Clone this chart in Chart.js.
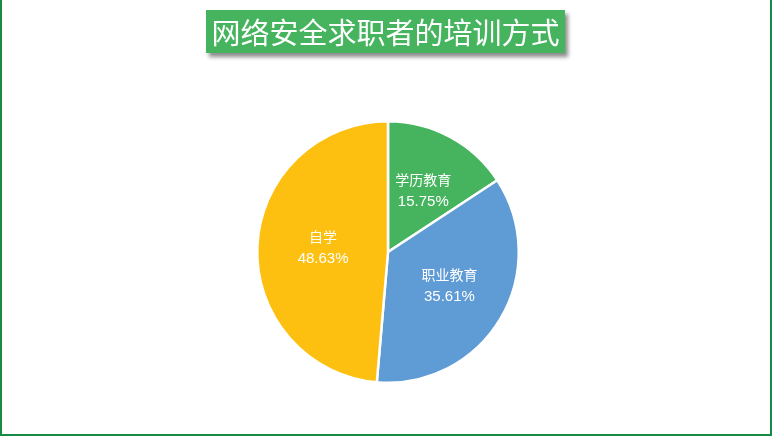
<!DOCTYPE html>
<html>
<head>
<meta charset="utf-8">
<script src="https://cdn.jsdelivr.net/npm/chart.js@4"></script>
<style>
    html, body { margin: 0; padding: 0; background: #fff; }
    #wrap {
        position: relative;
        width: 772px;
        height: 436px;
        box-sizing: border-box;
        border-left: 2px solid #178a45;
        border-right: 2px solid #178a45;
        border-bottom: 2px solid #178a45;
        overflow: hidden;
    }
    #title {
        position: absolute;
        left: 204px;
        top: 10px;
        width: 359px;
        height: 43px;
        background: #46b45e;
        color: #fff;
        font-family: "Noto Sans CJK SC", sans-serif;
        font-size: 29px;
        line-height: 43px;
        text-align: center;
        box-shadow: 3px 4px 4px rgba(0, 0, 0, 0.45);
        z-index: 2;
    }
    #chartBox { position: absolute; left: -2px; top: 0; width: 773px; height: 436px; }
</style>
</head>
<body>
<div id="wrap">
    <div id="title">网络安全求职者的培训方式</div>
    <div id="chartBox"><canvas id="pieChart"></canvas></div>
</div>
<script>
const categories = ['学历教育', '职业教育', '自学'];
const shares = [15.75, 35.61, 48.63];
const sliceColors = ['#46b45e', '#5f9bd4', '#fdbf10'];

// draws the two-line label (name + percent) inside each slice
const sliceLabels = {
    id: 'sliceLabels',
    afterDatasetsDraw(chart) {
        const ctx = chart.ctx;
        const meta = chart.getDatasetMeta(0);
        ctx.save();
        ctx.fillStyle = '#ffffff';
        ctx.textAlign = 'center';
        ctx.textBaseline = 'middle';
        meta.data.forEach((arc, i) => {
            const p = arc.getProps(['x', 'y', 'startAngle', 'endAngle', 'outerRadius'], true);
            const mid = (p.startAngle + p.endAngle) / 2;
            const r = p.outerRadius * 0.52;
            const x = p.x + Math.cos(mid) * r + 3;
            const y = p.y + Math.sin(mid) * r;
            ctx.font = '14px "Liberation Sans", "Noto Sans CJK SC", sans-serif';
            ctx.fillText(categories[i], x, y - 11);
            ctx.font = '15px "Liberation Sans", "Noto Sans CJK SC", sans-serif';
            ctx.fillText(shares[i].toFixed(2) + '%', x, y + 10);
        });
        ctx.restore();
    }
};

document.addEventListener("DOMContentLoaded", function() {
    const ctx = document.getElementById('pieChart').getContext('2d');
    new Chart(ctx, {
        type: 'pie',
        data: {
            labels: categories,
            datasets: [{
                data: shares,
                backgroundColor: sliceColors,
                borderColor: '#ffffff',
                borderWidth: 2.5
            }]
        },
        options: {
            responsive: true,
            maintainAspectRatio: false,
            animation: false,
            layout: { padding: { top: 120, bottom: 52, left: 3, right: 0 } },
            plugins: {
                legend: { display: false },
                tooltip: { enabled: false }
            }
        },
        plugins: [sliceLabels]
    });
});
</script>
</body>
</html>
